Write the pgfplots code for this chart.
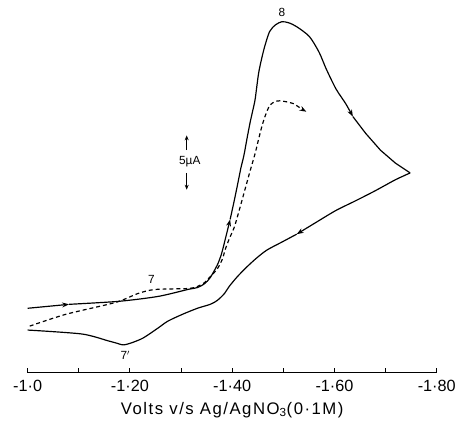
\documentclass[border=0pt]{standalone}
\usepackage{fontspec}
\setmainfont{Liberation Sans}
\usepackage{pgfplots}
\pgfplotsset{compat=1.18}
\usetikzlibrary{arrows.meta}

\begin{document}
\begin{tikzpicture}[x=1bp,y=1bp]
\path (0,0) rectangle (459,418);
\begin{axis}[
  at={(28bp,41bp)}, anchor=south west,
  scale only axis, width=414bp, height=367.2bp,
  xmin=-1.8, xmax=-1.0, ymin=0, ymax=34,
  x dir=reverse, clip=false,
  axis x line*=bottom, axis y line=none,
  axis line style={line width=1.8bp},
  xtick={-1.0,-1.1,-1.2,-1.3,-1.4,-1.5,-1.6,-1.7,-1.8},
  xticklabels={-1·0,,-1·20,,-1·40,,-1·60,,-1·80},
  tick align=inside, major tick length=5bp,
  tick style={line width=1bp, black},
  tick label style={font=\fontsize{16.5}{18}\selectfont, yshift=-4bp},
  xlabel={Volts v/s Ag/AgNO\textsubscript{3}(0·1M)},
  xlabel style={font=\fontsize{17}{19}\selectfont\addfontfeature{LetterSpace=9}, yshift=-4bp},
  no markers,
  every axis plot/.append style={black, line width=1.2bp, smooth, tension=0.45},
]
% forward sweep (solid)
\addplot[-{Stealth[length=7bp,width=5bp]}] coordinates {
  (-1.000,6.02)(-1.081,6.39)};
\addplot[-{Stealth[length=7bp,width=5bp]}] coordinates {
  (-1.081,6.39)(-1.178,6.67)(-1.255,7.13)(-1.313,7.78)(-1.332,7.96)
  (-1.346,8.33)(-1.357,8.89)(-1.371,10.09)(-1.379,11.11)(-1.386,12.41)
  (-1.396,14.35)};
\addplot[-{Stealth[length=7bp,width=5bp]}] coordinates {
  (-1.396,14.35)(-1.404,16.11)(-1.410,17.50)(-1.417,19.17)(-1.423,20.37)
  (-1.429,21.94)(-1.435,23.43)(-1.441,24.72)(-1.445,25.65)(-1.452,28.15)
  (-1.462,30.28)(-1.473,31.94)(-1.485,32.59)(-1.497,32.87)(-1.510,32.78)
  (-1.526,32.41)(-1.551,31.48)(-1.570,30.00)(-1.584,28.43)(-1.603,26.57)
  (-1.622,25.19)(-1.636,23.98)};
\addplot[sharp plot] coordinates {
  (-1.636,23.98)(-1.661,22.41)(-1.690,20.83)(-1.719,19.63)(-1.748,18.70)};
% reverse sweep (solid)
\addplot[-{Stealth[length=7bp,width=5bp]}] coordinates {
  (-1.748,18.70)(-1.719,18.06)(-1.680,17.04)(-1.642,16.11)(-1.603,15.19)
  (-1.564,14.07)(-1.526,12.96)};
\addplot[black] coordinates {
  (-1.526,12.96)(-1.497,12.22)(-1.468,11.48)(-1.448,10.74)(-1.429,9.91)
  (-1.410,8.98)(-1.394,8.06)(-1.385,7.41)(-1.371,6.76)(-1.357,6.39)
  (-1.332,6.02)(-1.303,5.46)(-1.274,4.81)(-1.255,4.17)(-1.226,3.24)
  (-1.203,2.78)(-1.187,2.59)(-1.172,2.78)(-1.158,2.96)(-1.106,3.61)
  (-1.000,3.98)};
% dashed curve
\addplot[dash pattern=on 4bp off 3bp, -{Stealth[length=7bp,width=5bp]}] coordinates {
  (-1.004,4.35)(-1.075,5.46)(-1.172,6.57)(-1.216,7.41)(-1.249,7.78)
  (-1.313,7.87)(-1.332,8.06)(-1.346,8.43)(-1.357,8.98)(-1.371,9.72)
  (-1.381,10.65)(-1.386,11.48)(-1.394,12.50)(-1.404,13.61)(-1.412,14.91)
  (-1.419,16.11)(-1.427,17.50)(-1.435,18.89)(-1.445,20.56)(-1.452,21.94)
  (-1.458,23.06)(-1.464,23.98)(-1.473,25.00)(-1.483,25.37)(-1.493,25.46)
  (-1.506,25.37)(-1.520,25.19)(-1.535,24.72)(-1.545,24.44)};
% annotations
\node[font=\fontsize{12}{14}\selectfont] at (axis cs:-1.497,33.7) {8};
\node[font=\fontsize{12}{14}\selectfont] at (axis cs:-1.242,8.7) {7};
\node[font=\fontsize{12}{14}\selectfont] at (axis cs:-1.191,1.6) {7$'$};
\node[font=\fontsize{12}{14}\selectfont] at (axis cs:-1.317,19.72) {5µA};
\draw[line width=1bp, -{Stealth[length=5bp,width=4bp]}] (axis cs:-1.311,20.83) -- (axis cs:-1.311,22.22);
\draw[line width=1bp, -{Stealth[length=5bp,width=4bp]}] (axis cs:-1.311,18.70) -- (axis cs:-1.311,17.13);
\end{axis}
\end{tikzpicture}
\end{document}
